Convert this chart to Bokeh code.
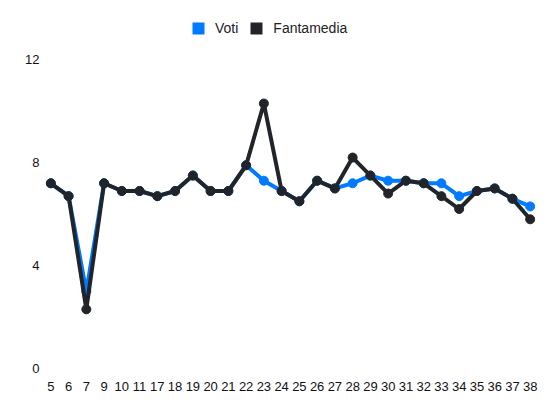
from bokeh.plotting import figure
from bokeh.models import Range1d, FixedTicker, Legend, LegendItem, ColumnDataSource
from bokeh.embed import file_html
from bokeh.resources import INLINE

giornate = ["5", "6", "7", "9", "10", "11", "17", "18", "19", "20", "21", "22", "23", "24",
            "25", "26", "27", "28", "29", "30", "31", "32", "33", "34", "35", "36", "37", "38"]
voti = [7.2, 6.7, 3.0, 7.2, 6.9, 6.9, 6.7, 6.9, 7.5, 6.9, 6.9, 7.9, 7.3, 6.9,
        6.5, 7.3, 7.0, 7.2, 7.5, 7.3, 7.3, 7.2, 7.2, 6.7, 6.9, 7.0, 6.6, 6.3]
fantamedia = [7.2, 6.7, 2.3, 7.2, 6.9, 6.9, 6.7, 6.9, 7.5, 6.9, 6.9, 7.9, 10.3, 6.9,
              6.5, 7.3, 7.0, 8.2, 7.5, 6.8, 7.3, 7.2, 6.7, 6.2, 6.9, 7.0, 6.6, 5.8]
y_ticks = [0, 4, 8, 12]

BLUE = "#007bff"
DARK = "#212529"
FONT = "Liberation Sans"

idx = list(range(len(giornate)))
src = ColumnDataSource(dict(x=idx, voti=voti, fm=fantamedia))

p = figure(width=550, height=412, output_backend="svg", toolbar_location=None,
           x_range=Range1d(-0.3, len(giornate) - 1 + 0.3), y_range=Range1d(0, 14.305),
           min_border_left=45, min_border_right=15, min_border_top=0, min_border_bottom=44)
p.outline_line_color = None
p.background_fill_color = "white"
p.border_fill_color = "white"
p.xgrid.visible = False
p.ygrid.visible = False

p.line("x", "voti", source=src, line_color=BLUE, line_width=4)
p.scatter("x", "voti", source=src, size=9, fill_color=BLUE, line_color=BLUE, line_width=1)
p.line("x", "fm", source=src, line_color=DARK, line_width=4)
p.scatter("x", "fm", source=src, size=9, fill_color=DARK, line_color=DARK, line_width=1)

# legend swatches: zero-size square markers (invisible on the chart)
lv = p.scatter("x", "voti", source=src, marker="square", size=0, fill_color=BLUE, line_color=None)
lf = p.scatter("x", "fm", source=src, marker="square", size=0, fill_color=DARK, line_color=None)

legend = Legend(items=[LegendItem(label="Voti", renderers=[lv]),
                       LegendItem(label="Fantamedia", renderers=[lf])],
                orientation="horizontal", location=(138, 325),
                glyph_width=30, glyph_height=30, label_height=30, label_standoff=2,
                spacing=3, padding=0, margin=0,
                border_line_color=None, background_fill_alpha=0,
                label_text_font=FONT, label_text_font_size="14px", label_text_color="#222222")
p.add_layout(legend)

for ax in (p.xaxis[0], p.yaxis[0]):
    ax.axis_line_color = None
    ax.major_tick_line_color = None
    ax.minor_tick_line_color = None
    ax.major_tick_out = 0
    ax.major_tick_in = 0
    ax.major_label_text_font = FONT
    ax.major_label_text_font_size = "13px"
    ax.major_label_text_color = "#111111"

p.xaxis.ticker = FixedTicker(ticks=idx)
p.xaxis.major_label_overrides = {i: g for i, g in zip(idx, giornate)}
p.xaxis.major_label_standoff = 13
p.yaxis.ticker = FixedTicker(ticks=y_ticks)
p.yaxis.major_label_standoff = 6

open("out.html", "w").write(file_html(p, INLINE))
